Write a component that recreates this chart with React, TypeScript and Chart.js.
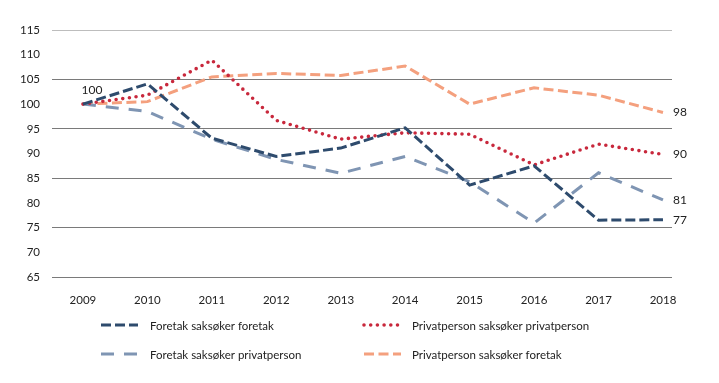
import React, { useEffect, useRef } from "react";
import { Chart, registerables } from "chart.js";

Chart.register(...registerables);

const years = [2009, 2010, 2011, 2012, 2013, 2014, 2015, 2016, 2017, 2018];
const foretakForetak = [100, 104.1, 93.1, 89.4, 91.1, 95.2, 83.6, 87.5, 76.5, 76.6];
const privatPrivat = [100, 101.8, 108.9, 96.7, 92.9, 94.2, 93.9, 87.7, 91.9, 89.8];
const foretakPrivat = [100, 98.5, 92.9, 88.8, 86.0, 89.4, 84.3, 75.9, 86.1, 80.6];
const privatForetak = [100, 100.5, 105.5, 106.2, 105.8, 107.7, 100.0, 103.3, 101.8, 98.3];
const endLabels = ["77", "90", "81", "98"];
const startLabel = "100";
const seriesNames = [
  "Foretak saksøker foretak",
  "Privatperson saksøker privatperson",
  "Foretak saksøker privatperson",
  "Privatperson saksøker foretak",
];
const yTicks = [65, 70, 75, 80, 85, 90, 95, 100, 105, 110, 115];

const FONT = "Lato, 'Open Sans', sans-serif";

export default function App() {
  const ref = useRef<HTMLCanvasElement>(null);
  useEffect(() => {
    document.body.style.margin = "0";
    const toPts = (arr: number[]) => arr.map((v, i) => ({ x: years[i], y: v }));
    const legendPlugin = {
      id: "customLegend",
      afterDraw(chart: any) {
        const ctx = chart.ctx;
        const pos = [
          { lx: 101, tx: 150, y: 325 },
          { lx: 364, tx: 412, y: 325 },
          { lx: 101, tx: 150, y: 354 },
          { lx: 364, tx: 412, y: 354 },
        ];
        chart.data.datasets.forEach((ds: any, i: number) => {
          const p = pos[i];
          ctx.save();
          ctx.strokeStyle = ds.borderColor;
          ctx.lineWidth = ds.borderWidth;
          ctx.lineCap = ds.borderCapStyle || "butt";
          ctx.setLineDash(ds.borderDash || []);
          ctx.beginPath();
          ctx.moveTo(p.lx, p.y);
          ctx.lineTo(p.lx + 37, p.y);
          ctx.stroke();
          ctx.setLineDash([]);
          ctx.fillStyle = "#222";
          ctx.font = `11.5px ${FONT}`;
          ctx.textBaseline = "middle";
          ctx.textAlign = "left";
          ctx.fillText(ds.label, p.tx, p.y + 1);
          ctx.restore();
        });
      },
    };
    const labelPlugin = {
      id: "endLabels",
      afterDatasetsDraw(chart: any) {
        const ctx = chart.ctx;
        ctx.save();
        ctx.font = `12px ${FONT}`;
        ctx.fillStyle = "#222";
        ctx.textBaseline = "middle";
        chart.data.datasets.forEach((ds: any, i: number) => {
          const meta = chart.getDatasetMeta(i);
          const last = meta.data[meta.data.length - 1];
          ctx.textAlign = "left";
          ctx.fillText(endLabels[i], last.x + 10, last.y);
        });
        const m0 = chart.getDatasetMeta(0).data[0];
        ctx.textAlign = "center";
        ctx.fillText(startLabel, m0.x + 9, m0.y - 14);
        ctx.restore();
      },
    };
    const chart = new Chart(ref.current!, {
      type: "line",
      data: {
        datasets: [
          {
            label: seriesNames[0],
            data: toPts(foretakForetak),
            borderColor: "#2e4b6d",
            borderWidth: 3,
            borderDash: [10, 4],
            pointRadius: 0,
            tension: 0,
          },
          {
            label: seriesNames[1],
            data: toPts(privatPrivat),
            borderColor: "#c8283c",
            borderWidth: 3.6,
            borderDash: [0, 6.7],
            borderCapStyle: "round",
            pointRadius: 0,
            tension: 0,
          },
          {
            label: seriesNames[2],
            data: toPts(foretakPrivat),
            borderColor: "#7f95b3",
            borderWidth: 3,
            borderDash: [13, 10],
            pointRadius: 0,
            tension: 0,
          },
          {
            label: seriesNames[3],
            data: toPts(privatForetak),
            borderColor: "#f4a07e",
            borderWidth: 3,
            borderDash: [10, 4.5],
            pointRadius: 0,
            tension: 0,
          },
        ],
      },
      options: {
        animation: false,
        responsive: false,
        maintainAspectRatio: false,
        layout: { padding: { top: 30, right: 47, left: 0, bottom: 76 } },
        plugins: { legend: { display: false }, tooltip: { enabled: false } },
        scales: {
          x: {
            type: "linear",
            min: 2008.52,
            max: 2018.14,
            afterBuildTicks: (s: any) => {
              s.ticks = years.map((v) => ({ value: v }));
            },
            afterFit: (s: any) => {
              s.height = 30;
            },
            grid: { display: false },
            border: { display: false },
            ticks: {
              color: "#222",
              font: { family: FONT, size: 11.5 },
              padding: 8,
              callback: (v: any) => String(v),
              maxRotation: 0,
              autoSkip: false,
            },
          },
          y: {
            min: 65,
            max: 115,
            afterBuildTicks: (s: any) => {
              s.ticks = yTicks.map((v) => ({ value: v }));
            },
            afterFit: (s: any) => {
              s.width = 52;
            },
            border: { display: false },
            grid: {
              drawTicks: false,
              lineWidth: 1,
              color: (c: any) => {
                const v = c.tick && c.tick.value;
                if (v === 115) return "#bdbdbd";
                if ((v - 65) % 10 === 0) return "#7a7a7a";
                return "rgba(0,0,0,0)";
              },
            },
            ticks: {
              color: "#222",
              font: { family: FONT, size: 11.5 },
              padding: 12,
            },
          },
        },
      },
      plugins: [labelPlugin, legendPlugin],
    });
    return () => chart.destroy();
  }, []);
  return (
    <div style={{ width: 719, height: 383 }}>
      <canvas ref={ref} width={719} height={383} style={{ display: "block" }} />
    </div>
  );
}
